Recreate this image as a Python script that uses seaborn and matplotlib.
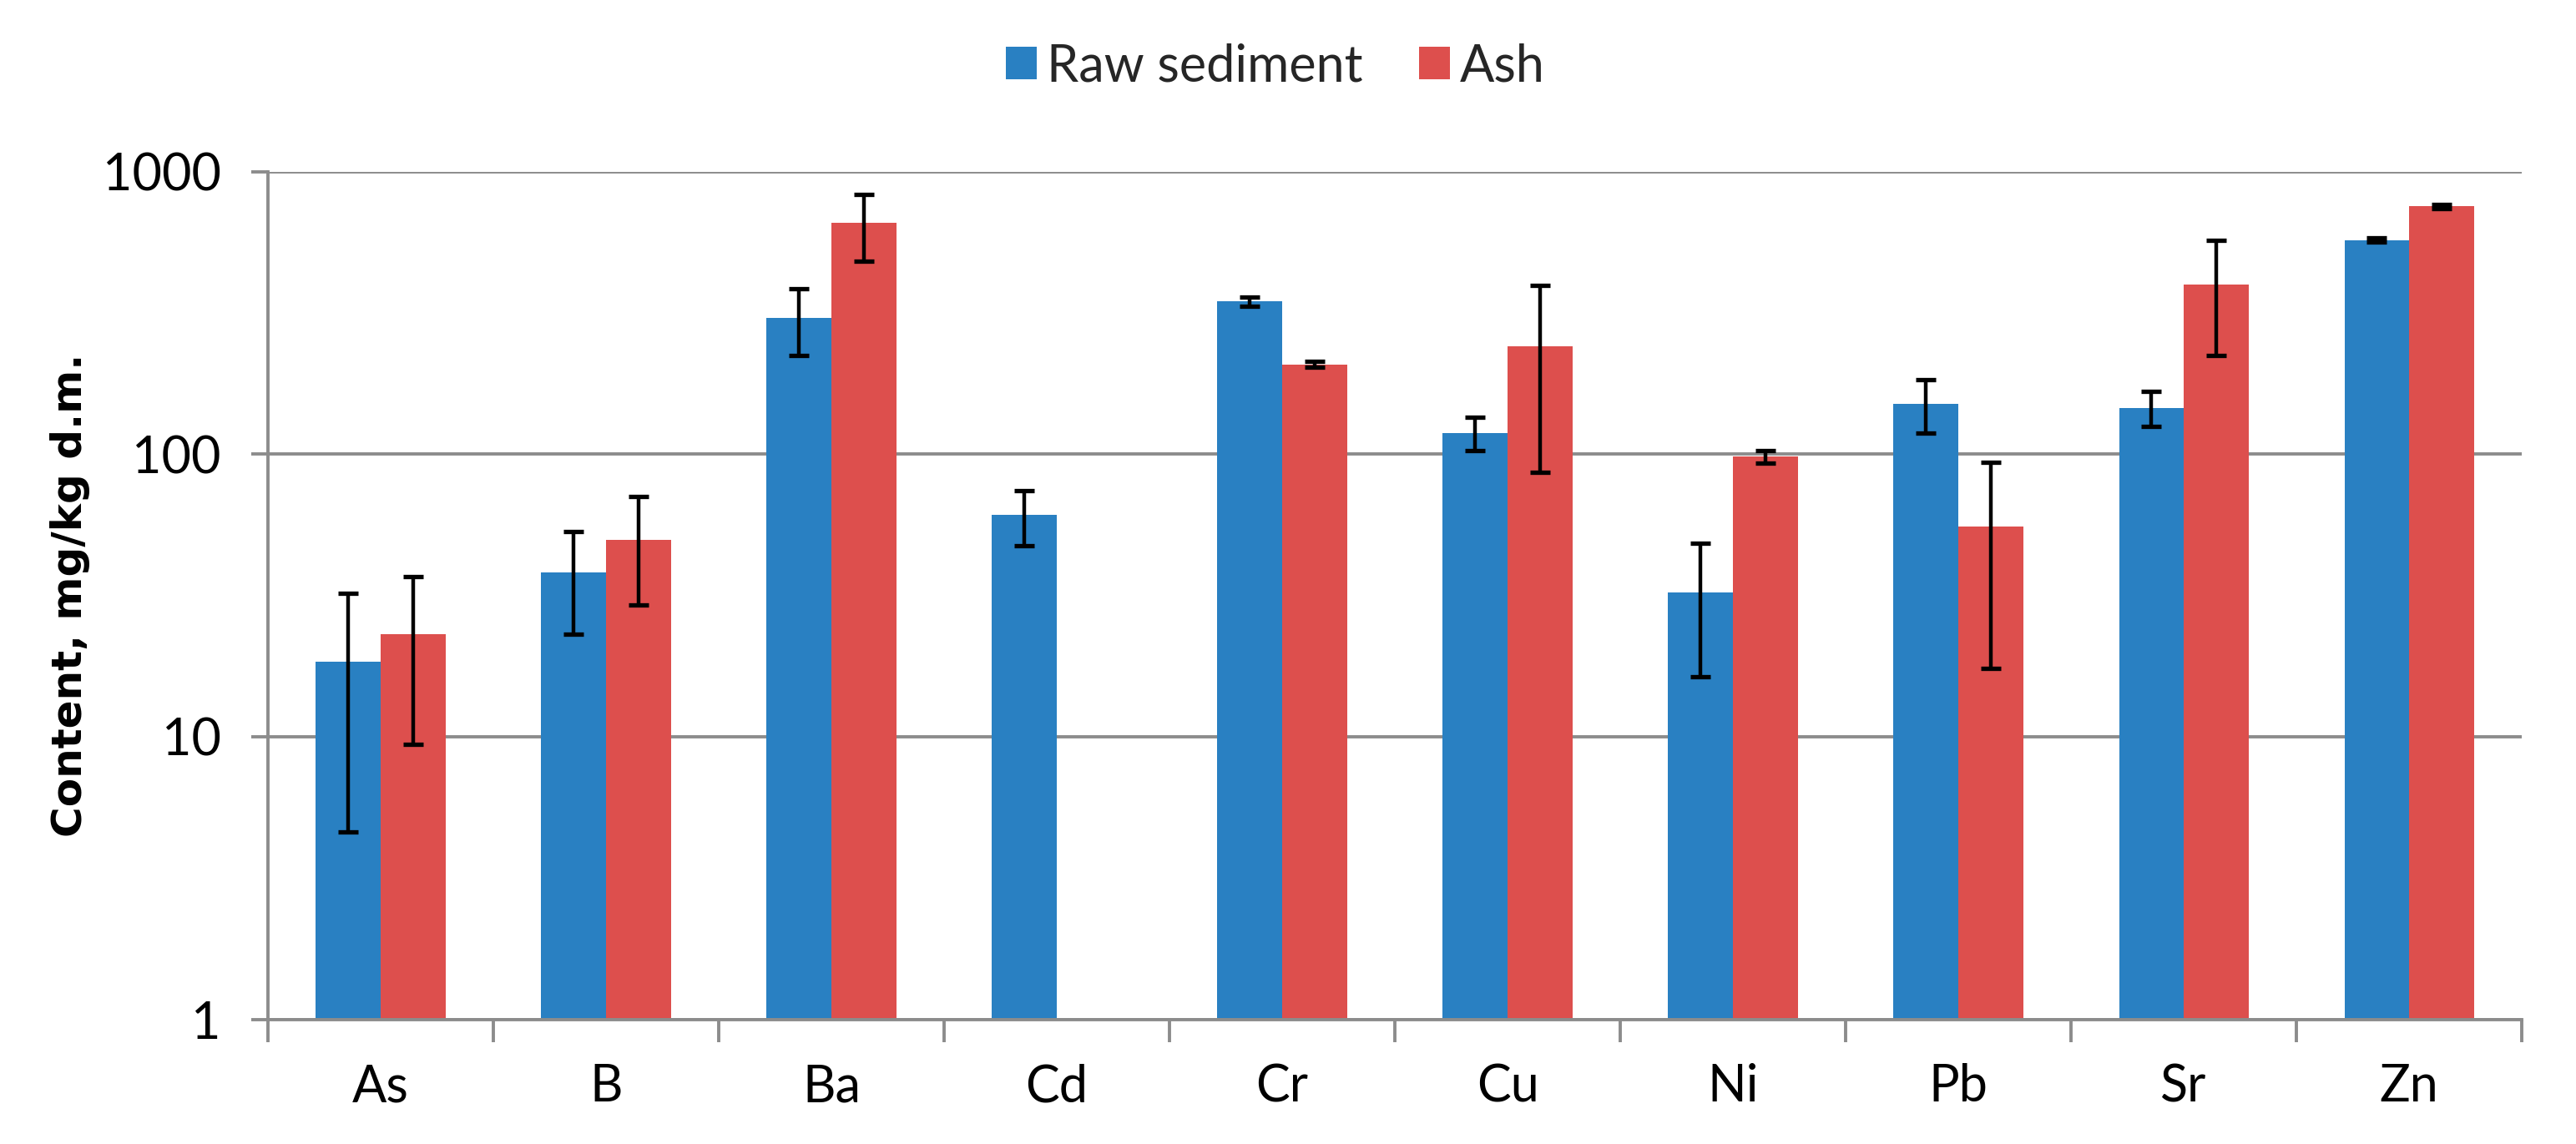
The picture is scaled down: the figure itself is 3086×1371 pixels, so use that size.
import numpy as np
import pandas as pd
import matplotlib
matplotlib.use("Agg")
import matplotlib.pyplot as plt
import seaborn as sns
from matplotlib.ticker import FixedLocator, NullLocator

# ---- data ----
elements = ["As", "B", "Ba", "Cd", "Cr", "Cu", "Ni", "Pb", "Sr", "Zn"]
raw_values = [18.4, 38.1, 304, 61, 347, 119, 32.3, 151, 146, 573]
raw_sd = [13.8, 15, 81, 13.5, 13, 16, 16, 32, 21, 10]
ash_values = [23.1, 49.9, 658, np.nan, 208, 241, 98, 55.5, 398, 754]
ash_sd = [13.7, 20.7, 175, np.nan, 5, 155, 5, 38, 174, 12]
series = ["Raw sediment", "Ash"]
y_ticks = [1, 10, 100, 1000]
y_tick_labels = ["1", "10", "100", "1000"]
y_label = "Content, mg/kg d.m."

BLUE = "#2980C2"
RED = "#DD4F4D"
GRID = "#8C8C8C"

sns.set_theme(style="white")
plt.rcParams["font.family"] = ["Lato", "DejaVu Sans"]

df = pd.DataFrame({
    "Element": elements * 2,
    "Series": [series[0]] * len(elements) + [series[1]] * len(elements),
    "Content": raw_values + ash_values,
    "SD": raw_sd + ash_sd,
})

fig = plt.figure(figsize=(15.43, 6.855), dpi=200)
ax = fig.add_axes([0.104, 0.109, 0.875, 0.741])

sns.barplot(data=df, x="Element", y="Content", hue="Series",
            order=elements, hue_order=series, palette=[BLUE, RED],
            saturation=1, width=0.575, errorbar=None, linewidth=0, ax=ax)

ax.set_yscale("log")
ax.set_ylim(1, 1000)
ax.set_xlim(-0.5, len(elements) - 0.5)

# error bars at the bar tops
for cont, s in zip(ax.containers, series):
    sub = df[df["Series"] == s].set_index("Element")
    for bar in cont:
        h = bar.get_height()
        if not np.isfinite(h) or h <= 0:
            continue
        xc = bar.get_x() + bar.get_width() / 2
        el = elements[int(round(xc))]
        sd = sub.loc[el, "SD"]
        ax.errorbar(xc, h, yerr=sd, fmt="none", ecolor="black",
                    elinewidth=1.6, capsize=4.2, capthick=1.9, zorder=5)

# axes styling
for sp in ["top", "right"]:
    ax.spines[sp].set_visible(False)
for sp in ["left", "bottom"]:
    ax.spines[sp].set_color(GRID)
    ax.spines[sp].set_linewidth(1.4)
ax.set_axisbelow(True)
ax.yaxis.grid(True, color=GRID, linewidth=1.4)
ax.xaxis.grid(False)

ax.yaxis.set_major_locator(FixedLocator(y_ticks))
ax.set_yticklabels(y_tick_labels)
ax.yaxis.set_minor_locator(NullLocator())
ax.tick_params(axis="y", which="major", length=7.2, width=1.4, color=GRID,
               pad=13, labelsize=22, labelcolor="black", left=True)

ax.xaxis.set_minor_locator(FixedLocator(np.arange(len(elements) + 1) - 0.5))
ax.tick_params(axis="x", which="major", length=0, pad=19, labelsize=22,
               labelcolor="black")
ax.tick_params(axis="x", which="minor", length=9.7, width=1.4, color=GRID,
               bottom=True)

ax.set_xlabel("")
ax.set_ylabel(y_label, fontsize=18, fontweight="bold",
              family=["DejaVu Sans"], color="black")
ax.yaxis.set_label_coords(-0.079, 0.5)

sns.move_legend(ax, "center", bbox_to_anchor=(0.447, 1.124), ncol=2,
                frameon=False, title=None, fontsize=22,
                handlelength=0.6, handleheight=0.6, handletextpad=0.2,
                columnspacing=1.1)

fig.savefig("out.png", dpi=200)
